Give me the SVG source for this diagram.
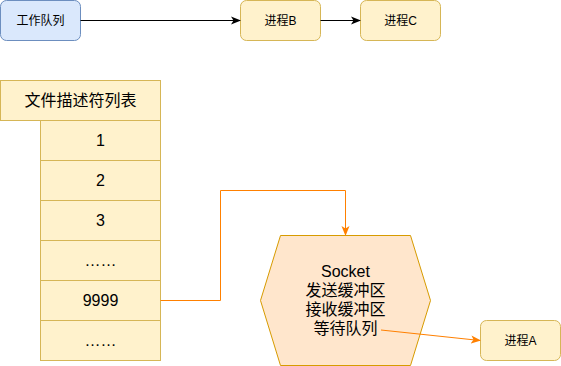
<svg xmlns="http://www.w3.org/2000/svg" width="561" height="366" viewBox="0 0 561 366">
<style>
text{font-family:"Liberation Sans","Noto Sans CJK SC",sans-serif;fill:#000;text-anchor:middle}
.s12{font-size:12px}
.s16{font-size:16px}
.blue{fill:#dae8fc;stroke:#6c8ebf;stroke-width:1}
.yel{fill:#fff2cc;stroke:#d6b656;stroke-width:1}
.org{fill:#ffe6cc;stroke:#d79b00;stroke-width:1}
.blk{fill:none;stroke:#000;stroke-width:1}
.orl{fill:none;stroke:#ff8000;stroke-width:1}
</style>
<defs>
<marker id="ab" viewBox="0 0 10 10" refX="9" refY="5" markerWidth="10" markerHeight="10" markerUnits="userSpaceOnUse" orient="auto">
<path d="M0,1 L10,5 L0,9 L2.5,5 Z" fill="#000"/>
</marker>
<marker id="ao" viewBox="0 0 10 10" refX="9" refY="5" markerWidth="10" markerHeight="10" markerUnits="userSpaceOnUse" orient="auto">
<path d="M0,1 L10,5 L0,9 L2.5,5 Z" fill="#ff8000"/>
</marker>
</defs>
<g id="work-queue">
<rect class="blue" x="0.5" y="0.5" width="80" height="40" rx="6"/>
<text class="s12" x="40.5" y="25">工作队列</text>
</g>
<g id="process-b">
<rect class="yel" x="240.5" y="0.5" width="80" height="40" rx="6"/>
<text class="s12" x="280.5" y="25">进程B</text>
</g>
<g id="process-c">
<rect class="yel" x="360.5" y="0.5" width="80" height="40" rx="6"/>
<text class="s12" x="400.5" y="25">进程C</text>
</g>
<g id="fd-table">
<rect class="yel" x="0.5" y="80.5" width="160" height="40"/>
<text class="s16" x="80.5" y="106">文件描述符列表</text>
<rect class="yel" x="40.5" y="120.5" width="120" height="40"/>
<text class="s16" x="100.5" y="146">1</text>
<rect class="yel" x="40.5" y="160.5" width="120" height="40"/>
<text class="s16" x="100.5" y="186">2</text>
<rect class="yel" x="40.5" y="200.5" width="120" height="40"/>
<text class="s16" x="100.5" y="226">3</text>
<rect class="yel" x="40.5" y="240.5" width="120" height="40"/>
<text class="s16" x="100.5" y="266">……</text>
<rect class="yel" x="40.5" y="280.5" width="120" height="40"/>
<text class="s16" x="100.5" y="306">9999</text>
<rect class="yel" x="40.5" y="320.5" width="120" height="40"/>
<text class="s16" x="100.5" y="346">……</text>
</g>
<g id="socket">
<path class="org" d="M280.5,235.5 L410.5,235.5 L430.5,300.5 L410.5,365.5 L280.5,365.5 L260.5,300.5 Z"/>
<text class="s16" x="345.5" y="277">Socket</text>
<text class="s16" x="345.5" y="296">发送缓冲区</text>
<text class="s16" x="345.5" y="315">接收缓冲区</text>
<text class="s16" x="345.5" y="334">等待队列</text>
</g>
<g id="process-a">
<rect class="yel" x="480.5" y="320.5" width="80" height="40" rx="6"/>
<text class="s12" x="520.5" y="345">进程A</text>
</g>
<g id="connectors">
<path class="blk" d="M80.5,20.5 L240,20.5" marker-end="url(#ab)"/>
<path class="blk" d="M320.5,20.5 L360,20.5" marker-end="url(#ab)"/>
<path class="orl" d="M160.5,300.5 L220.5,300.5 L220.5,190.5 L345.5,190.5 L345.5,235" marker-end="url(#ao)"/>
<path class="orl" d="M381,330 L480,340.5" marker-end="url(#ao)"/>
</g>
</svg>
